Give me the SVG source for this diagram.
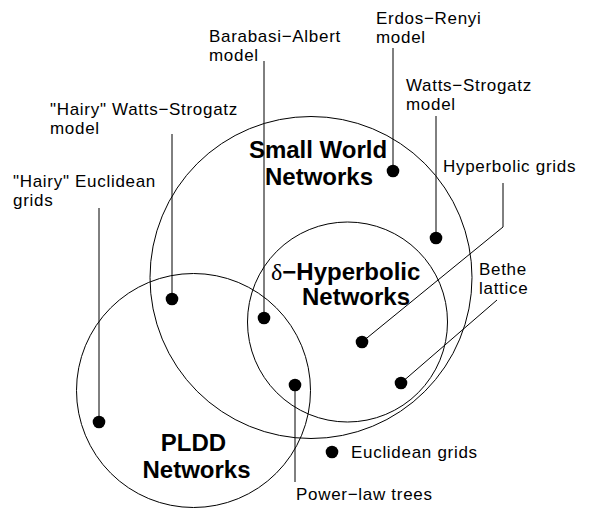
<svg xmlns="http://www.w3.org/2000/svg" width="592" height="508" viewBox="0 0 592 508">
<style>
.set{fill:none;stroke:#000;stroke-width:1}
.lbl{font-family:"Liberation Sans",Arial,sans-serif;font-size:17px;letter-spacing:0.7px;fill:#000}
.big{font-family:"Liberation Sans",Arial,sans-serif;font-size:24px;font-weight:bold;fill:#000}
.ln{fill:none;stroke:#000;stroke-width:1}
.dot{fill:#000}
</style>
<rect width="592" height="508" fill="#fff"/>
<g id="small-world">
<circle class="set" cx="311" cy="277.5" r="161"/>
<text class="big" x="318" y="158" text-anchor="middle">Small World</text>
<text class="big" x="319" y="185" text-anchor="middle">Networks</text>
</g>
<g id="hyperbolic">
<circle class="set" cx="347.5" cy="322" r="100"/>
<text class="big" x="271" y="280"><tspan font-family="'Liberation Serif',serif" font-weight="normal">δ</tspan>−Hyperbolic</text>
<text class="big" x="356" y="305" text-anchor="middle">Networks</text>
</g>
<g id="pldd">
<circle class="set" cx="193.5" cy="390.5" r="117"/>
<text class="big" x="193.5" y="451" text-anchor="middle">PLDD</text>
<text class="big" x="196.5" y="478" text-anchor="middle">Networks</text>
</g>
<g id="connectors">
<line class="ln" x1="99" y1="208" x2="99" y2="422"/>
<line class="ln" x1="172" y1="134" x2="172" y2="299"/>
<line class="ln" x1="264" y1="61" x2="264" y2="318"/>
<line class="ln" x1="393" y1="48" x2="393" y2="171"/>
<line class="ln" x1="436" y1="116" x2="436" y2="238"/>
<polyline class="ln" points="503,183 503,227 362,342"/>
<line class="ln" x1="497" y1="300" x2="401" y2="383"/>
<line class="ln" x1="295" y1="385" x2="295" y2="482"/>
</g>
<g id="hairy-euclidean">
<circle class="dot" cx="99" cy="422" r="6.3"/>
<text class="lbl" x="13" y="187">"Hairy" Euclidean</text>
<text class="lbl" x="13" y="206">grids</text>
</g>
<g id="hairy-ws">
<circle class="dot" cx="172" cy="299" r="6.3"/>
<text class="lbl" x="50" y="115">"Hairy" Watts−Strogatz</text>
<text class="lbl" x="50" y="134">model</text>
</g>
<g id="barabasi">
<circle class="dot" cx="264" cy="318" r="6.3"/>
<text class="lbl" x="209" y="41.5">Barabasi−Albert</text>
<text class="lbl" x="209" y="60.5">model</text>
</g>
<g id="erdos">
<circle class="dot" cx="393" cy="171" r="6.3"/>
<text class="lbl" x="376" y="24">Erdos−Renyi</text>
<text class="lbl" x="376" y="43">model</text>
</g>
<g id="ws">
<circle class="dot" cx="436" cy="238" r="6.3"/>
<text class="lbl" x="406" y="90.5">Watts−Strogatz</text>
<text class="lbl" x="406" y="109.5">model</text>
</g>
<g id="hyperbolic-grids">
<circle class="dot" cx="362" cy="342" r="6.3"/>
<text class="lbl" x="443" y="172">Hyperbolic grids</text>
</g>
<g id="bethe">
<circle class="dot" cx="401" cy="383" r="6.3"/>
<text class="lbl" x="479" y="274.5">Bethe</text>
<text class="lbl" x="479" y="293.5">lattice</text>
</g>
<g id="power-law">
<circle class="dot" cx="295" cy="385" r="6.3"/>
<text class="lbl" x="296" y="500">Power−law trees</text>
</g>
<g id="euclidean">
<circle class="dot" cx="332" cy="452" r="6.3"/>
<text class="lbl" x="351" y="458">Euclidean grids</text>
</g>
</svg>
